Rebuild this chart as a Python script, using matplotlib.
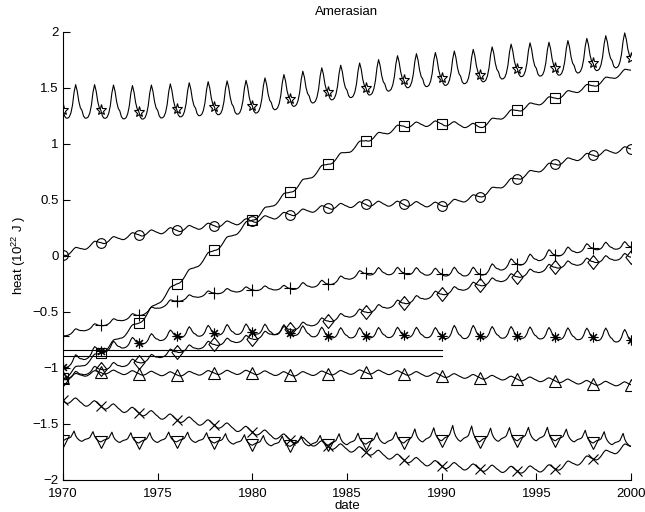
import numpy as np
import matplotlib
matplotlib.use('Agg')
import matplotlib.pyplot as plt
from matplotlib.ticker import FuncFormatter

plt.rcParams['font.family'] = ['Liberation Sans', 'DejaVu Sans']
plt.rcParams['mathtext.fontset'] = 'custom'
plt.rcParams['mathtext.rm'] = 'Liberation Sans'
plt.rcParams['mathtext.it'] = 'Liberation Sans:italic'

# marker years (every second January)
marker_years = list(range(1970, 2001, 2))

# heat content at each marker year (10^22 J)
star_vals = [1.30, 1.30, 1.29, 1.31, 1.33, 1.34, 1.40, 1.46, 1.50, 1.57, 1.59, 1.62, 1.67, 1.68, 1.72, 1.77]
square_vals = [-1.09, -0.87, -0.60, -0.25, 0.05, 0.32, 0.57, 0.82, 1.03, 1.16, 1.18, 1.15, 1.30, 1.41, 1.52, 1.66]
circle_vals = [0.01, 0.12, 0.19, 0.23, 0.27, 0.31, 0.37, 0.43, 0.46, 0.46, 0.45, 0.53, 0.69, 0.82, 0.90, 0.955]
plus_vals = [-0.71, -0.62, -0.53, -0.40, -0.33, -0.30, -0.29, -0.25, -0.155, -0.15, -0.16, -0.16, -0.07, 0.01, 0.07, 0.08]
diamond_vals = [-1.10, -1.01, -0.95, -0.855, -0.79, -0.74, -0.655, -0.58, -0.50, -0.42, -0.34, -0.26, -0.185, -0.10, -0.05, -0.01]
aster_vals = [-0.99, -0.845, -0.775, -0.71, -0.685, -0.675, -0.685, -0.71, -0.71, -0.705, -0.71, -0.71, -0.71, -0.72, -0.725, -0.75]
tri_up_vals = [-1.09, -1.04, -1.05, -1.06, -1.045, -1.045, -1.06, -1.05, -1.04, -1.05, -1.07, -1.085, -1.10, -1.115, -1.14, -1.15]
cross_vals = [-1.29, -1.34, -1.40, -1.46, -1.51, -1.57, -1.64, -1.70, -1.75, -1.82, -1.875, -1.90, -1.92, -1.90, -1.81, -1.70]
tri_down_vals = [-1.65, -1.66, -1.67, -1.66, -1.67, -1.69, -1.70, -1.69, -1.68, -1.67, -1.65, -1.66, -1.65, -1.65, -1.67, -1.70]

# seasonal cycle relative to January, Jan..Dec (fraction of amplitude)
peaked_cycle = [0.0, -0.22, -0.3, -0.3, -0.25, -0.1, 0.2, 0.7, 1.0, 0.75, 0.35, 0.1]
wavy_cycle = [0.0, -0.3, -0.5, -0.5, -0.3, 0.0, 0.4, 0.8, 1.0, 0.8, 0.5, 0.2]
spike_cycle = [0.0, 0.1, 0.2, 0.25, 0.3, 0.4, 0.7, 1.0, 0.55, 0.3, 0.15, 0.05]

# seasonal amplitude per two-year segment
star_amp = [0.23] * 16
square_amp = [0.03] * 16
circle_amp = [0.03] * 16
plus_amp = [0.03, 0.03, 0.03, 0.03, 0.03, 0.03, 0.04, 0.04, 0.05, 0.05, 0.06, 0.06, 0.06, 0.05, 0.05, 0.05]
diamond_amp = [0.04] * 16
aster_amp = [0.06, 0.06, 0.06, 0.07, 0.07, 0.07, 0.07, 0.07, 0.07, 0.07, 0.09, 0.08, 0.08, 0.08, 0.09, 0.09]
tri_up_amp = [0.025] * 16
cross_amp = [0.04] * 16
tri_down_amp = [0.09, 0.09, 0.09, 0.09, 0.09, 0.09, 0.09, 0.10, 0.10, 0.12, 0.14, 0.12, 0.12, 0.11, 0.11, 0.11]

# horizontal reference levels drawn 1970-1990
ref_levels = [-0.835, -0.895]
ref_span = [1970, 1990]

# MATLAB-like diamond (a little taller than wide)
DIAMOND = [(0, 1), (0.8, 0), (0, -1), (-0.8, 0), (0, 1)]

SERIES = [
    # values, cycle, amp, marker, size, last marker shown
    (star_vals, peaked_cycle, star_amp, '*', 8, True),
    (square_vals, wavy_cycle, square_amp, 's', 6.5, False),
    (circle_vals, wavy_cycle, circle_amp, 'o', 7, True),
    (plus_vals, peaked_cycle, plus_amp, '+', 8, True),
    (diamond_vals, peaked_cycle, diamond_amp, DIAMOND, 10, True),
    (aster_vals, peaked_cycle, aster_amp, (8, 2, 0), 7, True),
    (tri_up_vals, wavy_cycle, tri_up_amp, '^', 8, True),
    (cross_vals, wavy_cycle, cross_amp, 'x', 6.5, False),
    (tri_down_vals, spike_cycle, tri_down_amp, 'v', 8, False),
]


def monthly_line(vals, cycle, amp):
    t = np.arange(1970, 2000 + 1e-9, 1.0 / 12)
    month = np.rint((t - np.floor(t + 1e-9)) * 12).astype(int) % 12
    seg = np.minimum(((t - 1970) // 2).astype(int), len(amp) - 1)
    trend = np.interp(t, marker_years, vals)
    return t, trend + np.array(amp)[seg] * np.array(cycle)[month]


fig = plt.figure(figsize=(6.45, 5.12), dpi=100)
ax = fig.add_axes([0.0977, 0.0625, 0.8806, 0.875])

for level in ref_levels:
    ax.plot(ref_span, [level, level], color='black', lw=0.8)

for vals, cycle, amp, mk, ms, last in SERIES:
    t, y = monthly_line(vals, cycle, amp)
    ax.plot(t, y, color='black', lw=0.8)
    n = len(marker_years) if last else len(marker_years) - 1
    ax.plot(marker_years[:n], vals[:n], linestyle='none', marker=mk, ms=ms,
            mfc='none', mec='black', mew=0.8)

ax.set_xlim(1970, 2000)
ax.set_ylim(-2, 2)
ax.set_xticks(range(1970, 2001, 5))
ax.set_yticks(np.arange(-2, 2.01, 0.5))
ax.yaxis.set_major_formatter(FuncFormatter(lambda v, p: ('%g' % v).replace('-', '\u2212')))
ax.tick_params(direction='in', length=5, width=0.8, labelsize=9.5)
ax.tick_params(axis='x', pad=6)
ax.tick_params(axis='y', pad=3)
ax.spines['top'].set_visible(False)
ax.spines['right'].set_visible(False)
for s in ('left', 'bottom'):
    ax.spines[s].set_linewidth(0.8)

ax.set_title('Amerasian', fontsize=9.5, pad=12)
ax.set_xlabel('date', fontsize=9.5, labelpad=0)
ax.set_ylabel('heat (10$^{22}$ J )', fontsize=9.5, labelpad=3)

fig.savefig('out.png', dpi=100)
